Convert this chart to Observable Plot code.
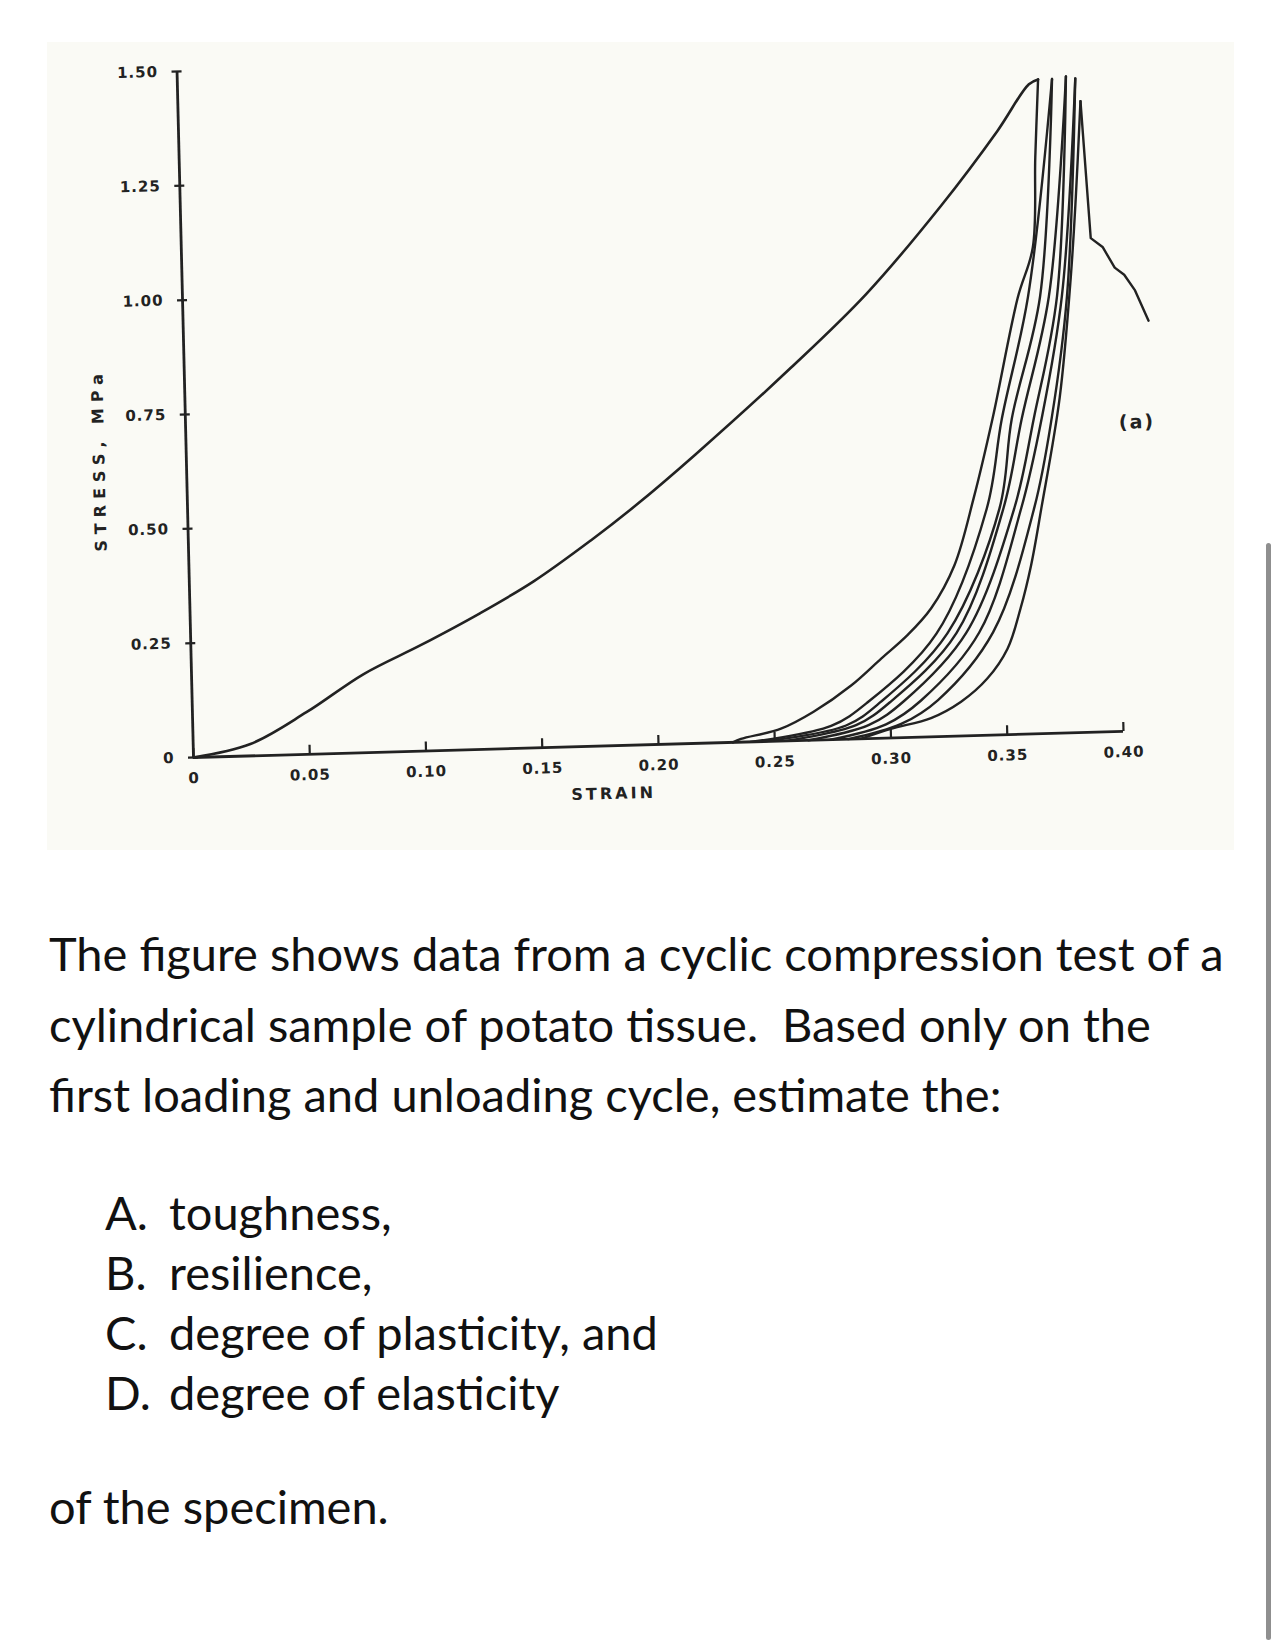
<!DOCTYPE html>
<html>
<head>
<meta charset="utf-8">
<script src="https://cdn.jsdelivr.net/npm/d3@7"></script>
<script src="https://cdn.jsdelivr.net/npm/@observablehq/plot@0.6"></script>
<style>
html, body { margin: 0; padding: 0; background: #ffffff; }
body { width: 1284px; height: 1640px; position: relative; overflow: hidden; font-family: Lato, "Noto Sans", sans-serif; color: #111; }
#scan { position: absolute; left: 47px; top: 42px; width: 1187px; height: 808px; background: #fafaf5; }
#chart { position: absolute; left: 0; top: 0; }
#chart svg { transform: matrix(1, -0.028, 0.024, 1, 0, 0); transform-origin: 193px 757px; }
#chart text { letter-spacing: 1px; }
.q { position: absolute; left: 49px; font-size: 47px; line-height: 70.5px; white-space: nowrap; }
.li { position: absolute; font-size: 47px; line-height: 60px; white-space: nowrap; }
#scroll { position: absolute; left: 1266px; top: 543px; width: 5px; height: 1097px; background: #8f8f8f; border-radius: 3px; }
</style>
</head>
<body>
<div id="scan"></div>
<div id="chart"></div>
<div class="q" style="top:918px">The figure shows data from a cyclic compression test of a<br>cylindrical sample of potato tissue.&nbsp; Based only on the<br>first loading and unloading cycle, estimate the:</div>
<div class="li" style="top:1182px; left:105px">A.</div><div class="li" style="top:1182px; left:169px">toughness,</div>
<div class="li" style="top:1242px; left:105px">B.</div><div class="li" style="top:1242px; left:169px">resilience,</div>
<div class="li" style="top:1302px; left:105px">C.</div><div class="li" style="top:1302px; left:169px">degree of plasticity, and</div>
<div class="li" style="top:1362px; left:105px">D.</div><div class="li" style="top:1362px; left:169px">degree of elasticity</div>
<div class="q" style="top:1471px">of the specimen.</div>
<div id="scroll"></div>
<script>
// Axis ticks
const xTicks = [0, 0.05, 0.10, 0.15, 0.20, 0.25, 0.30, 0.35, 0.40];
const yTicks = [0, 0.25, 0.50, 0.75, 1.00, 1.25, 1.50];

// First loading curve [strain, stress MPa]
const loading1 = [[0,0],[0.0246,0.026],[0.049,0.092],[0.074,0.172],[0.099,0.232],[0.124,0.296],[0.148,0.364],[0.173,0.45],[0.193,0.525],[0.219,0.632],[0.261,0.816],[0.294,0.972],[0.327,1.16],[0.352,1.32],[0.366,1.42],[0.370,1.43]];

// Unloading / reloading curves of the later cycles
const unload1 = [[0.370,1.43],[0.368,1.26],[0.366,1.063],[0.359,0.954],[0.347,0.693],[0.338,0.519],[0.329,0.373],[0.3186,0.281],[0.308,0.223],[0.2966,0.174],[0.2834,0.117],[0.267,0.062],[0.2528,0.027],[0.2355,0.007],[0.232,0]];
const reload2 = [[0.376,1.43],[0.3634,0.955],[0.3509,0.69],[0.3435,0.495],[0.3206,0.225],[0.2905,0.08],[0.2744,0.03],[0.2396,0]];
const unload2 = [[0.376,1.43],[0.3686,0.955],[0.3552,0.69],[0.3490,0.495],[0.3253,0.225],[0.2961,0.08],[0.2808,0.03],[0.2447,0]];
const reload3 = [[0.382,1.435],[0.3724,0.955],[0.3595,0.69],[0.3507,0.495],[0.3292,0.225],[0.3004,0.08],[0.2851,0.03],[0.2546,0]];
const unload3 = [[0.382,1.435],[0.3759,0.955],[0.3647,0.69],[0.3554,0.495],[0.3334,0.225],[0.3060,0.08],[0.2907,0.03],[0.2645,0]];
const reload4 = [[0.386,1.43],[0.3780,0.955],[0.3681,0.69],[0.3584,0.495],[0.3390,0.225],[0.3133,0.08],[0.2980,0.03],[0.2740,0]];
const unload4 = [[0.386,1.43],[0.3802,0.955],[0.3724,0.69],[0.3640,0.495],[0.3450,0.225],[0.3206,0.08],[0.3045,0.03],[0.2817,0]];
const reload5 = [[0.388,1.38],[0.385,1.17],[0.382,0.995],[0.376,0.733],[0.367,0.493],[0.362,0.369],[0.357,0.275],[0.351,0.188],[0.342,0.124],[0.3305,0.075],[0.3174,0.041],[0.300,0.02],[0.287,0]];

// Failure after the last peak
const failure = [[0.388,1.38],[0.391,1.08],[0.396,1.06],[0.401,1.014],[0.405,0.998],[0.4095,0.963],[0.415,0.896]];

// Labels
const xLabel = "STRAIN";
const yLabel = "STRESS, MPa";
const panelLabel = [{strain: 0.409, stress: 0.675, text: "(a)"}];

const toRows = (pts, id) => pts.map(([strain, stress], i) => ({id, i, strain, stress}));
const cycleRows = [
  ...toRows(unload1, "u1"), ...toRows(reload2, "r2"), ...toRows(unload2, "u2"),
  ...toRows(reload3, "r3"), ...toRows(unload3, "u3"), ...toRows(reload4, "r4"),
  ...toRows(unload4, "u4"), ...toRows(reload5, "r5")
];
const fmt = d => d === 0 ? "0" : d.toFixed(2);
const ink = "#222222";

const chart = Plot.plot({
  width: 1284,
  height: 850,
  marginLeft: 193,
  marginRight: 161,
  marginTop: 71,
  marginBottom: 93,
  x: {domain: [0, 0.4], axis: null, label: null},
  y: {domain: [0, 1.5], axis: null, label: null},
  style: {background: "transparent", fontFamily: "'DejaVu Sans', sans-serif", fontSize: "15px", fontWeight: "bold", color: "#222", overflow: "visible"},
  marks: [
    Plot.ruleY([0], {stroke: ink, strokeWidth: 2.8}),
    Plot.ruleX([0], {stroke: ink, strokeWidth: 2.8}),
    Plot.axisX(xTicks, {label: null, tickSize: 9, dy: -9, tickPadding: 15, tickFormat: fmt, stroke: ink, strokeWidth: 2.2, fill: "#222"}),
    Plot.axisY(yTicks, {label: null, tickSize: 10, dx: 5, tickPadding: 14, tickFormat: fmt, stroke: ink, strokeWidth: 2.2, fill: "#222"}),
    Plot.line(toRows(loading1, "l1"), {x: "strain", y: "stress", curve: "catmull-rom", stroke: ink, strokeWidth: 2.6}),
    Plot.line(cycleRows, {x: "strain", y: "stress", z: "id", curve: "catmull-rom", stroke: ink, strokeWidth: 2.4}),
    Plot.line(toRows(failure, "f"), {x: "strain", y: "stress", stroke: ink, strokeWidth: 2.4}),
    Plot.text(panelLabel, {x: "strain", y: "stress", text: "text", fontSize: 19, fill: "#222"}),
    Plot.text([xLabel], {text: d => d, frameAnchor: "bottom", textAnchor: "middle", lineAnchor: "middle", dx: -46, dy: 48, fontSize: 16, fill: "#222"}),
    Plot.text([yLabel], {text: d => d, frameAnchor: "left", textAnchor: "middle", lineAnchor: "middle", rotate: -90, dx: -87, dy: 43, fontSize: 16, fill: "#222"})
  ]
});
d3.select(chart).selectAll("text").each(function () {
  const t = this.textContent;
  if (t === yLabel) this.style.letterSpacing = "6px";
  else if (t === xLabel) this.style.letterSpacing = "3px";
  else if (t === "(a)") this.style.letterSpacing = "2px";
});
document.getElementById("chart").appendChild(chart);
</script>
</body>
</html>
